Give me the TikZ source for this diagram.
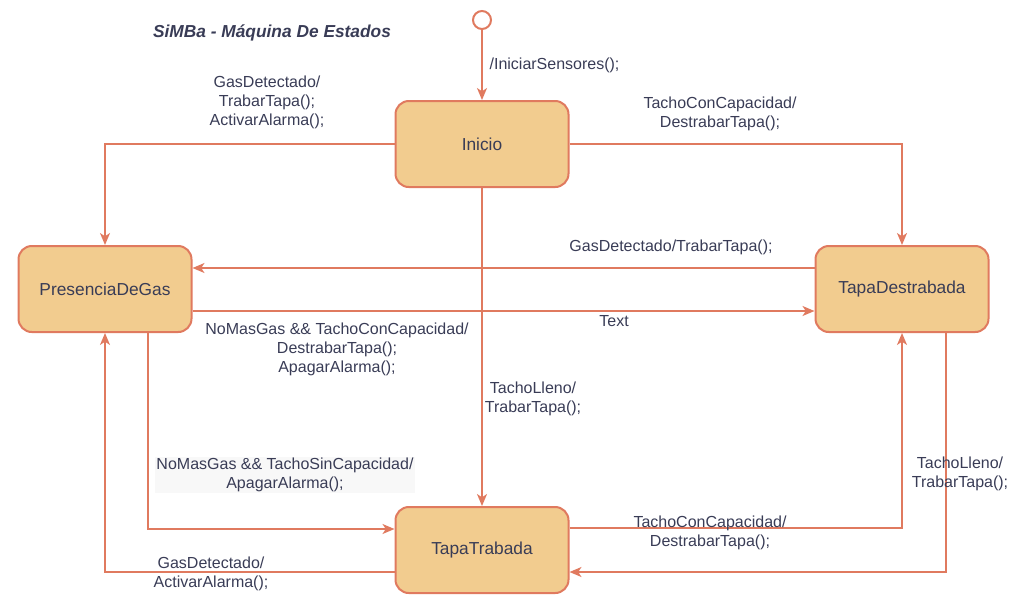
\documentclass[tikz,border=0pt]{standalone}
\usepackage{fontspec}
\setmainfont{Liberation Sans}
\usetikzlibrary{positioning, arrows.meta}
\definecolor{simbafill}{HTML}{F2CC8F}
\definecolor{simbaline}{HTML}{E07A5F}
\definecolor{simbatext}{HTML}{393C56}
\definecolor{simbabg}{HTML}{F8F8F8}

\begin{document}
\begin{tikzpicture}[x=0.75pt, y=-0.75pt,
        state/.style={rounded corners=10pt, draw=simbaline, fill=simbafill, line width=1.5pt,
            minimum width=129.75pt, minimum height=64.5pt, text=simbatext, font=\fontsize{13}{15}\selectfont},
        trans/.style={draw=simbaline, line width=1.2pt, -{Stealth[length=9pt, width=7.5pt, inset=2.5pt]}},
        lbl/.style={align=center, text=simbatext, inner sep=1pt, font=\fontsize{12}{14.3}\selectfont}
    ]
      \useasboundingbox (0,0) rectangle (1020,612);
      % title
      \node[text=simbatext, font=\fontsize{13}{15}\selectfont\bfseries\itshape] (title) at (272,33) {SiMBa - Máquina De Estados};
      % states
      \node[circle, draw=simbaline, fill=white, line width=1.5pt, minimum size=13.5pt, inner sep=0pt] (start) at (482,20) {};
      \node[state] (inicio) at (482,144) {Inicio};
      \node[state] (gas) at (105,289) {PresenciaDeGas};
      \node[state] (destr) at (902,289) {TapaDestrabada};
      \node[state] (trab) at (482,550) {TapaTrabada};
      % transitions from Inicio
      \draw[trans] (start) -- (inicio);
      \draw[trans] (inicio.west) -| (gas.north);
      \draw[trans] (inicio.east) -| (destr.north);
      \draw[trans] (inicio.south) -- (trab.north);
      % between PresenciaDeGas and TapaDestrabada
      \draw[trans] ([yshift=15.75pt]destr.west) -- ([yshift=15.75pt]gas.east);
      \draw[trans] ([yshift=-16.5pt]gas.east) -- ([yshift=-16.5pt]destr.west);
      % to and from TapaTrabada
      \draw[trans] ([xshift=32.25pt]gas.south) |- ([yshift=15.75pt]trab.west);
      \draw[trans] ([yshift=-16.5pt]trab.west) -| (gas.south);
      \draw[trans] ([yshift=16.5pt]trab.east) -| (destr.south);
      \draw[trans] ([xshift=33pt]destr.south) |- ([yshift=-16.5pt]trab.east);
      % labels
      \node[lbl, anchor=west] (lInit) at (488,65) {/IniciarSensores();};
      \node[lbl] (lIniGas) at (267,102) {GasDetectado/\\TrabarTapa();\\ActivarAlarma();};
      \node[lbl] (lIniDes) at (720,114) {TachoConCapacidad/\\DestrabarTapa();};
      \node[lbl] (lIniTrab) at (533,399) {TachoLleno/\\TrabarTapa();};
      \node[lbl] (lDesGas) at (671,247) {GasDetectado/TrabarTapa();};
      \node[lbl] (lText) at (614,321) {Text};
      \node[lbl] (lGasDes) at (337,349) {NoMasGas \&\& TachoConCapacidad/\\DestrabarTapa();\\ApagarAlarma();};
      \node[lbl, fill=simbabg] (lGasTrab) at (285,475) {NoMasGas \&\& TachoSinCapacidad/\\ApagarAlarma();};
      \node[lbl] (lTrabGas) at (211,574) {GasDetectado/\\ActivarAlarma();};
      \node[lbl] (lTrabDes) at (710,533) {TachoConCapacidad/\\DestrabarTapa();};
      \node[lbl] (lDesTrab) at (960,474) {TachoLleno/\\TrabarTapa();};
    \end{tikzpicture}
\end{document}
